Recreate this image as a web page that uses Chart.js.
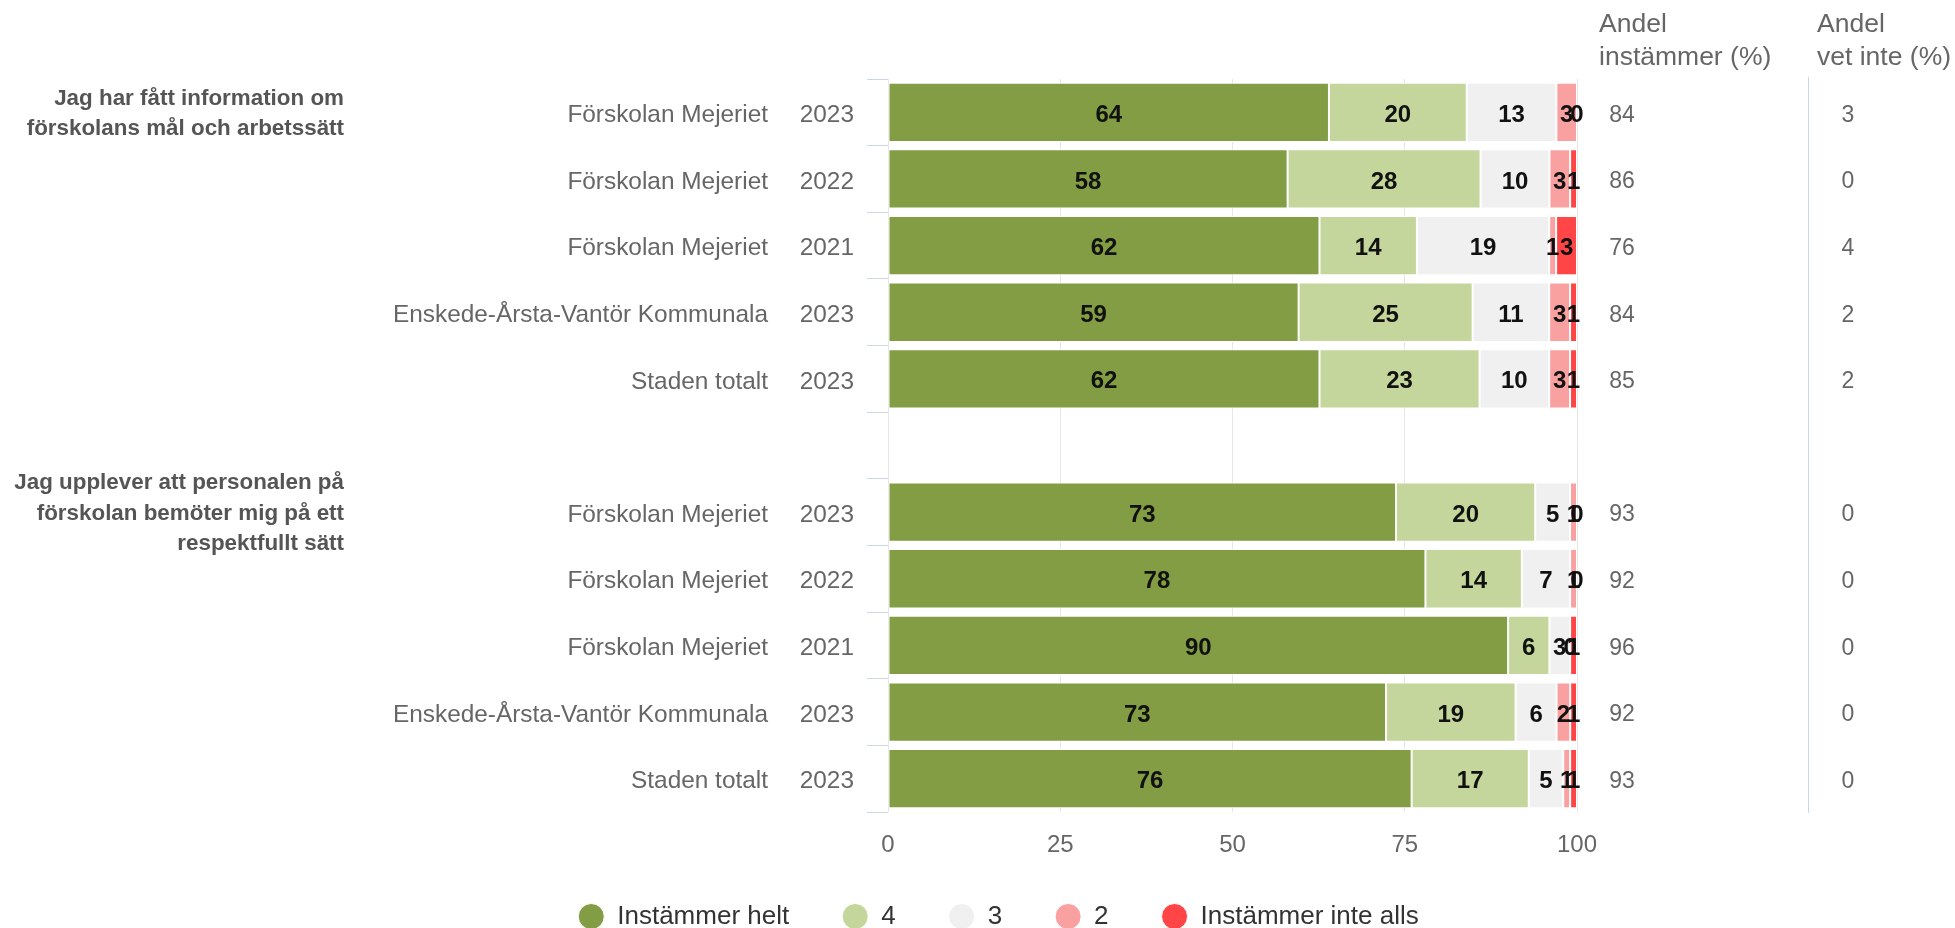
<!DOCTYPE html>
<html>
<head>
<meta charset="utf-8">
<script src="https://cdn.jsdelivr.net/npm/chart.js@4"></script>
<style>
  body { margin: 0; background: #fff; }
</style>
</head>
<body>
<canvas id="myChart" width="1955" height="928"></canvas>
<script>
// rader: skola + år, rad 6 är tom (luft mellan frågorna)
const units = [
  'Förskolan Mejeriet', 'Förskolan Mejeriet', 'Förskolan Mejeriet',
  'Enskede-Årsta-Vantör Kommunala', 'Staden totalt',
  '',
  'Förskolan Mejeriet', 'Förskolan Mejeriet', 'Förskolan Mejeriet',
  'Enskede-Årsta-Vantör Kommunala', 'Staden totalt'
];
const years = ['2023', '2022', '2021', '2023', '2023', '', '2023', '2022', '2021', '2023', '2023'];

const questions = [
  ['Jag har fått information om', 'förskolans mål och arbetssätt'],
  ['Jag upplever att personalen på', 'förskolan bemöter mig på ett', 'respektfullt sätt']
];
const questionRows = [0, 6];

const helt     = [64, 58, 62, 59, 62, null, 73, 78, 90, 73, 76];
const fyra     = [20, 28, 14, 25, 23, null, 20, 14, 6, 19, 17];
const tre      = [13, 10, 19, 11, 10, null, 5, 7, 3, 6, 5];
const tva      = [3, 3, 1, 3, 3, null, 1, 1, 0, 2, 1];
const inteAlls = [0, 1, 3, 1, 1, null, 0, 0, 1, 1, 1];

const andelInstammer = [84, 86, 76, 84, 85, null, 93, 92, 96, 92, 93];
const andelVetInte   = [3, 0, 4, 2, 2, null, 0, 0, 0, 0, 0];

const xTicks = [0, 25, 50, 75, 100];

const FONT = '"Liberation Sans", Arial, sans-serif';
Chart.defaults.font.family = FONT;

// procentstapling: varje rad fylls ut till 100
const series = [helt, fyra, tre, tva, inteAlls];
const totals = helt.map((v, i) => v == null ? null : series.reduce((s, arr) => s + arr[i], 0));
const pct = arr => arr.map((v, i) => v == null ? null : v / totals[i] * 100);

function ds(label, raw, color) {
  return {
    label: label,
    raw: raw,
    data: pct(raw),
    backgroundColor: color,
    borderColor: '#ffffff',
    borderWidth: 1,
    borderSkipped: false,
    barPercentage: 0.89,
    categoryPercentage: 1
  };
}

const data = {
  labels: units.map((u, i) => u + ' ' + years[i]),
  datasets: [
    ds('Instämmer helt', helt, '#829d43'),
    ds('4', fyra, '#c4d69c'),
    ds('3', tre, '#f0f0f0'),
    ds('2', tva, '#f9a1a1'),
    ds('Instämmer inte alls', inteAlls, '#ff4545')
  ]
};

const ROW_DY = 3;

const texts = {
  id: 'texts',
  afterDatasetsDraw(chart) {
    const ctx = chart.ctx;
    ctx.save();
    ctx.font = 'bold 24px ' + FONT;
    ctx.fillStyle = '#111';
    ctx.textAlign = 'center';
    ctx.textBaseline = 'middle';
    chart.data.datasets.forEach((d, di) => {
      chart.getDatasetMeta(di).data.forEach((bar, i) => {
        if (d.raw[i] == null) return;
        ctx.fillText(String(d.raw[i]), (bar.x + bar.base) / 2, bar.y + ROW_DY);
      });
    });
    ctx.restore();
  },
  afterDraw(chart) {
    const ctx = chart.ctx;
    const x = chart.scales.x;
    const y = chart.scales.y;
    const {left, right, top, bottom} = chart.chartArea;
    ctx.save();
    ctx.textBaseline = 'middle';

    // x-axelns etiketter
    ctx.font = '24px ' + FONT;
    ctx.fillStyle = '#666';
    ctx.textAlign = 'center';
    xTicks.forEach(v => ctx.fillText(String(v), x.getPixelForValue(v), bottom + 33));

    // vänster: skola och år
    ctx.font = '24.4px ' + FONT;
    ctx.textAlign = 'right';
    units.forEach((u, i) => {
      const py = y.getPixelForValue(i) + ROW_DY;
      ctx.fillText(u, left - 120, py);
      ctx.fillText(years[i], left - 34, py);
    });

    // frågorna
    ctx.font = 'bold 22.4px ' + FONT;
    ctx.fillStyle = '#555';
    questions.forEach((lines, q) => {
      const cy = y.getPixelForValue(questionRows[q]) + 1.5;
      const lh = 30.5;
      lines.forEach((line, k) => {
        ctx.fillText(line, left - 544, cy + (k - (lines.length - 1) / 2) * lh);
      });
    });

    // höger: andelar
    ctx.font = '23px ' + FONT;
    ctx.fillStyle = '#666';
    ctx.textAlign = 'center';
    andelInstammer.forEach((v, i) => {
      if (v == null) return;
      const py = y.getPixelForValue(i) + ROW_DY;
      ctx.fillText(String(v), right + 45, py);
      ctx.fillText(String(andelVetInte[i]), right + 271, py);
    });

    ctx.font = '26.5px ' + FONT;
    ctx.textAlign = 'left';
    ctx.fillText('Andel', right + 22, 25);
    ctx.fillText('instämmer (%)', right + 22, 58);
    ctx.fillText('Andel', right + 240, 25);
    ctx.fillText('vet inte (%)', right + 240, 58);

    ctx.strokeStyle = '#ccd6eb';
    ctx.lineWidth = 1;
    ctx.beginPath();
    ctx.moveTo(right + 231.5, top - 2);
    ctx.lineTo(right + 231.5, bottom + 1);
    ctx.stroke();
    ctx.restore();
  }
};

const config = {
  type: 'bar',
  data: data,
  plugins: [texts],
  options: {
    indexAxis: 'y',
    responsive: false,
    animation: false,
    layout: {
      padding: {left: 42, top: 79, right: 0, bottom: -11.5}
    },
    scales: {
      x: {
        stacked: true,
        min: 0,
        max: 100,
        afterBuildTicks: s => { s.ticks = xTicks.map(v => ({value: v})); },
        afterFit: s => { s.height = 38.5; },
        grid: {color: '#e6e6e6', drawTicks: false},
        border: {display: false},
        ticks: {display: false}
      },
      y: {
        stacked: true,
        afterFit: s => { s.width = 846; },
        grid: {offset: true, drawOnChartArea: false, tickLength: 21, color: '#ccd6eb'},
        border: {display: false},
        ticks: {display: false}
      },
      y2: {
        type: 'category',
        position: 'right',
        afterFit: s => { s.width = 378; },
        grid: {display: false},
        border: {display: false},
        ticks: {display: false}
      }
    },
    plugins: {
      tooltip: {enabled: false},
      legend: {
        position: 'bottom',
        labels: {
          usePointStyle: true,
          pointStyle: 'circle',
          pointStyleWidth: 26,
          boxHeight: 18.4,
          padding: 53,
          color: '#333',
          font: {size: 26}
        }
      }
    }
  }
};

const myChart = new Chart(document.getElementById('myChart'), config);
</script>
</body>
</html>
